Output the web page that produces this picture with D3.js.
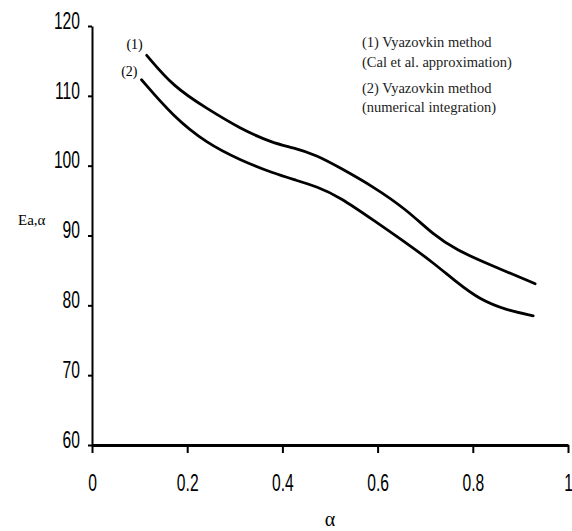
<!DOCTYPE html>
<html>
<head>
<meta charset="utf-8">
<script src="https://cdn.jsdelivr.net/npm/d3@7"></script>
<style>
  body { margin: 0; background: #fff; }
  .tick text { font-family: "Liberation Sans", Arial, sans-serif; }
</style>
</head>
<body>
<svg id="chart"></svg>
<script>
// activation energy vs conversion
var alpha1 = [0.115, 0.171, 0.241, 0.311, 0.381, 0.423, 0.472, 0.521, 0.591, 0.661, 0.717, 0.766, 0.836, 0.931];
var ea1 = [115.8, 111.3, 108.2, 105.3, 103.2, 102.6, 101.5, 99.7, 97.0, 93.7, 90.1, 87.9, 85.8, 83.1];

var alpha2 = [0.104, 0.171, 0.241, 0.311, 0.381, 0.430, 0.472, 0.521, 0.591, 0.661, 0.717, 0.766, 0.815, 0.871, 0.927];
var ea2 = [112.3, 107.0, 103.2, 100.8, 98.9, 97.9, 97.0, 95.5, 92.2, 88.9, 86.1, 83.3, 80.8, 79.3, 78.5];

var xTicks = [0, 0.2, 0.4, 0.6, 0.8, 1];
var xTickLabels = ["0", "0.2", "0.4", "0.6", "0.8", "1"];
var yTicks = [60, 70, 80, 90, 100, 110, 120];

var legendLines = ["(1) Vyazovkin method", "(Cal et al. approximation)", "(2) Vyazovkin method", "(numerical integration)"];

var width = 572,
    height = 531;

var margin = ({
    top: 26,
    right: 4,
    bottom: 86,
    left: 92
})

// narrow look for the tick numbers
var squeeze = 0.68;

var svg = d3.select("#chart")
    .attr("width", width)
    .attr("height", height);

var x = d3.scaleLinear()
    .domain([0, 1])
    .range([margin.left, width - margin.right]);

var y = d3.scaleLinear()
    .domain([60, 120])
    .range([height - margin.bottom, margin.top]);

// y axis
var yAxis = svg.append("g")
    .attr("transform", `translate(${margin.left},0)`)
    .call(d3.axisLeft(y).tickValues(yTicks).tickSize(4).tickSizeOuter(0));
yAxis.select(".domain").attr("stroke-width", 2);
yAxis.selectAll(".tick line").attr("stroke-width", 2);
yAxis.selectAll(".tick text")
    .attr("font-size", 23)
    .attr("x", -12 / squeeze)
    .attr("dy", "0.1em")
    .attr("transform", `scale(${squeeze},1)`);

// x axis
var xAxis = svg.append("g")
    .attr("transform", `translate(0,${y(60)})`)
    .call(d3.axisBottom(x).tickValues(xTicks).tickFormat((d, i) => xTickLabels[i]).tickSize(8).tickPadding(22).tickSizeOuter(0));
xAxis.select(".domain").attr("stroke-width", 3);
xAxis.selectAll(".tick line").attr("stroke-width", 2);
xAxis.selectAll(".tick text")
    .attr("font-size", 23)
    .attr("transform", `scale(${squeeze},1)`);

// axis titles
svg.append("text")
    .attr("x", x(0.5))
    .attr("y", 526)
    .attr("text-anchor", "middle")
    .attr("font-family", "Liberation Serif, serif")
    .attr("font-size", 20)
    .text("α");

svg.append("text")
    .attr("x", 18)
    .attr("y", 225)
    .attr("font-family", "Liberation Serif, serif")
    .attr("font-size", 15)
    .text("Ea,α");

// curves, smoothed through the read-off points
var line = d3.line()
    .x(d => x(d[0]))
    .y(d => y(d[1]))
    .curve(d3.curveBasis);

var series = [d3.zip(alpha1, ea1), d3.zip(alpha2, ea2)];

svg.append("g")
    .attr("fill", "none")
    .attr("stroke", "#000")
    .attr("stroke-width", 2.8)
    .attr("stroke-linecap", "round")
    .selectAll("path")
    .data(series)
    .join("path")
    .attr("d", line);

// curve tags
svg.append("text")
    .attr("x", x(alpha1[0]) - 4)
    .attr("y", y(ea1[0]) - 6)
    .attr("text-anchor", "end")
    .attr("font-family", "Liberation Serif, serif")
    .attr("font-size", 14)
    .text("(1)");

svg.append("text")
    .attr("x", x(alpha2[0]) - 4)
    .attr("y", y(ea2[0]) - 4)
    .attr("text-anchor", "end")
    .attr("font-family", "Liberation Serif, serif")
    .attr("font-size", 14)
    .text("(2)");

// legend
var legendY = [47, 67, 93, 112];
svg.append("g")
    .attr("font-family", "Liberation Serif, serif")
    .attr("font-size", 14.5)
    .attr("fill", "#222")
    .selectAll("text")
    .data(legendLines)
    .join("text")
    .attr("x", 362)
    .attr("y", (d, i) => legendY[i])
    .text(d => d);
</script>
</body>
</html>
